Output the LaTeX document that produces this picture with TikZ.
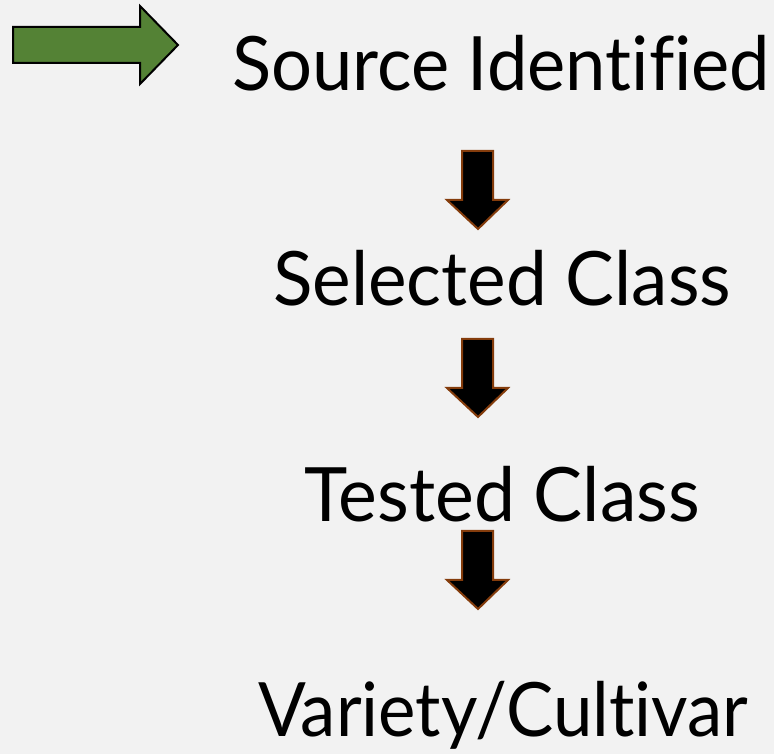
\documentclass[tikz,border=0pt]{standalone}
\usepackage{fontspec}
\setmainfont{Lato}[Ligatures=NoCommon]
\definecolor{bg}{HTML}{F2F2F2}
\definecolor{leafgreen}{HTML}{548235}
\definecolor{rust}{HTML}{843C0C}
% set a label to a fixed width, keeping its height
\newcommand{\fitw}[2]{\resizebox{#1}{\height}{#2}}
\begin{document}
\begin{tikzpicture}[x=1pt,y=1pt,
  label/.style={inner sep=0pt,anchor=base west,font=\fontsize{75}{80}\selectfont},
  pointer/.style={draw=black,line width=2pt,fill=leafgreen,line join=miter},
  downarrow/.style={draw=rust,line width=2pt,fill=black,line join=miter}]
\fill[bg] (0,0) rectangle (774,754);
\useasboundingbox (0,0) rectangle (774,754);
% green pointer, top left
\draw[pointer] (13,727) -- (140,727) -- (140,748) -- (178,709) -- (140,670) -- (140,691) -- (13,691) -- cycle;
% stage labels
\node[label] (src) at (232,663) {\fitw{538pt}{Source Identified}};
\node[label] (sel) at (273,448) {\fitw{458pt}{Selected Class}};
\node[label] (tst) at (304,232) {\fitw{396pt}{Tested Class}};
\node[label] (var) at (258,17) {\fitw{490pt}{Variety/Cultivar}};
% down arrows between stages
\foreach \top/\nm in {603/a1, 415/a2, 223/a3}{
  \draw[downarrow] (462,\top) -- (493,\top) -- (493,\top-49) -- (508,\top-49) -- (478,\top-78) -- (447,\top-49) -- (462,\top-49) -- cycle;
}
\end{tikzpicture}
\end{document}
